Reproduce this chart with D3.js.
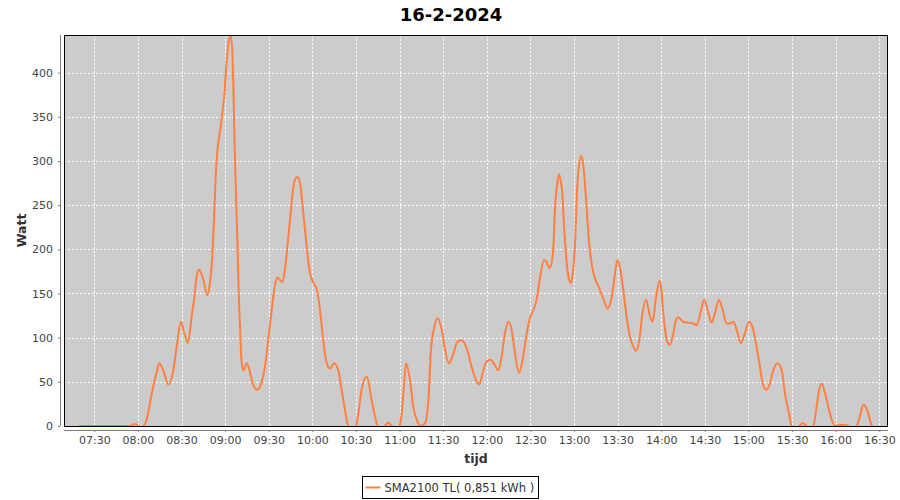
<!DOCTYPE html>
<html>
<head>
<meta charset="utf-8">
<script src="https://cdn.jsdelivr.net/npm/d3@7"></script>
<style>
   body { margin: 0; background: #fff; }
   text { font-family: 'DejaVu Sans', sans-serif; }
</style>
</head>
<body>
<div id="chart"></div>
<script>
const title = '16-2-2024';
const seriesName = 'SMA2100 TL( 0,851 kWh )';

// readings (time of day, watt)
const times = [
   '07:19:00', '07:30:00', '07:45:00', '07:55:00', '07:57:00', '07:59:00', '08:01:30', '08:04:00',
   '08:06:00', '08:08:20', '08:10:35', '08:12:55', '08:14:40', '08:17:30', '08:20:55', '08:24:20',
   '08:26:40', '08:29:35', '08:31:55', '08:34:20', '08:37:00', '08:38:50', '08:40:25', '08:42:00',
   '08:45:00', '08:47:40', '08:49:35', '08:51:10', '08:52:25', '08:53:30', '08:54:35', '08:55:50',
   '08:57:10', '08:58:20', '08:59:25', '09:00:35', '09:01:50', '09:02:55', '09:04:00', '09:05:00',
   '09:05:35', '09:06:35', '09:07:30', '09:08:25', '09:09:25', '09:10:20', '09:11:25', '09:12:30',
   '09:14:55', '09:17:05', '09:19:25', '09:22:05', '09:25:10', '09:27:25', '09:29:40', '09:32:00',
   '09:34:20', '09:35:55', '09:39:25', '09:41:10', '09:42:50', '09:44:40', '09:46:10', '09:48:05',
   '09:49:40', '09:51:35', '09:53:05', '09:55:00', '09:56:50', '09:58:25', '10:00:40', '10:03:00',
   '10:05:20', '10:07:30', '10:09:55', '10:12:05', '10:15:05', '10:17:50', '10:20:10', '10:22:30',
   '10:24:40', '10:27:20', '10:30:00', '10:31:35', '10:33:55', '10:37:25', '10:40:50', '10:43:05',
   '10:44:55', '10:47:30', '10:50:00', '10:52:10', '10:54:35', '10:57:10', '10:59:50', '11:01:30',
   '11:03:00', '11:04:25', '11:07:10', '11:09:25', '11:11:50', '11:14:00', '11:17:30', '11:19:50',
   '11:21:35', '11:23:55', '11:26:10', '11:29:00', '11:31:20', '11:34:00', '11:37:00', '11:39:40',
   '11:42:40', '11:46:10', '11:49:35', '11:52:35', '11:54:50', '11:57:35', '11:59:55', '12:02:40',
   '12:05:35', '12:07:55', '12:10:10', '12:12:30', '12:14:50', '12:17:05', '12:19:25', '12:22:10',
   '12:24:40', '12:27:30', '12:29:40', '12:32:00', '12:34:20', '12:36:05', '12:39:25', '12:41:00',
   '12:43:00', '12:44:30', '12:45:50', '12:47:00', '12:48:30', '12:49:40', '12:50:50', '12:52:00',
   '12:53:10', '12:54:35', '12:56:10', '12:57:50', '12:59:10', '13:00:50', '13:02:00', '13:03:35',
   '13:05:00', '13:06:30', '13:08:10', '13:09:30', '13:11:05', '13:13:25', '13:16:50', '13:20:20',
   '13:23:00', '13:26:00', '13:27:35', '13:29:50', '13:31:35', '13:33:55', '13:36:10', '13:38:30',
   '13:40:50', '13:42:35', '13:44:55', '13:47:10', '13:49:30', '13:52:20', '13:54:05', '13:56:25',
   '13:59:10', '14:01:25', '14:03:50', '14:06:00', '14:08:20', '14:10:10', '14:11:40', '14:15:10',
   '14:18:35', '14:22:05', '14:24:25', '14:26:40', '14:29:35', '14:32:25', '14:34:40', '14:37:00',
   '14:39:40', '14:42:20', '14:45:00', '14:47:20', '14:49:35', '14:51:55', '14:54:40', '14:57:35',
   '15:00:25', '15:02:55', '15:05:10', '15:07:30', '15:09:50', '15:12:05', '15:14:20', '15:17:05',
   '15:19:50', '15:22:55', '15:25:05', '15:27:25', '15:29:40', '15:32:00', '15:35:00', '15:37:20',
   '15:40:00', '15:42:20', '15:44:40', '15:46:55', '15:48:40', '15:50:25', '15:52:40', '15:54:55',
   '15:57:20', '15:59:30', '16:03:00', '16:06:25', '16:08:40', '16:11:30', '16:14:30', '16:16:40',
   '16:19:00', '16:21:40', '16:23:35', '16:24:50', '16:27:00'
];

const watts = [
   0, 0, 0, 0, 2, 2, -3, 0,
   7, 26, 45, 61, 71, 63, 47, 63,
   90, 118, 105, 94, 124, 146, 169, 177,
   166, 148, 162, 192, 237, 282, 309, 327,
   341, 358, 373, 403, 426, 439, 441, 422,
   392, 316, 260, 211, 146, 109, 71, 63,
   71, 61, 46, 41, 50, 67, 97, 131,
   160, 168, 163, 177, 203, 233, 260, 279,
   282, 275, 252, 222, 192, 173, 162, 155,
   131, 97, 71, 65, 71, 63, 41, 18,
   0, -4, 0, 14, 41, 56, 29, 11,
   0, -3, 0, 4, 0, -3, 0, 14,
   45, 71, 52, 22, 7, 0, 3, 29,
   86, 112, 122, 109, 86, 71, 82, 95,
   97, 88, 67, 52, 47, 63, 73, 75,
   69, 63, 78, 105, 118, 109, 82, 60,
   75, 105, 122, 131, 143, 162, 188, 186,
   179, 184, 203, 248, 275, 285, 278, 263,
   226, 192, 169, 162, 173, 211, 263, 297,
   306, 294, 260, 226, 196, 173, 158, 143,
   133, 146, 165, 188, 180, 154, 124, 101,
   90, 85, 97, 128, 143, 124, 118, 146,
   165, 128, 97, 92, 105, 120, 123, 118,
   117, 116, 114, 126, 143, 128, 117, 128,
   143, 131, 116, 116, 118, 109, 94, 105,
   118, 111, 94, 71, 48, 41, 46, 63,
   71, 63, 37, 18, 0, -4, 0, 3,
   0, -3, 0, 22, 41, 48, 37, 22,
   7, 0, 1, 1, 0, -3, 0, 11,
   24, 18, 7, 0, -4
];

const xTicks = ['07:30', '08:00', '08:30', '09:00', '09:30', '10:00', '10:30', '11:00', '11:30', '12:00',
   '12:30', '13:00', '13:30', '14:00', '14:30', '15:00', '15:30', '16:00', '16:30'];
const yTicks = [0, 50, 100, 150, 200, 250, 300, 350, 400];
const xDomain = ['07:09:10', '16:36:00'];
const yMax = 442.6;

const margin = { left: 64, right: 12, top: 35, bottom: 74 };
const width = 900 - margin.left - margin.right;
const height = 500 - margin.top - margin.bottom;

const parseTime = d3.timeParse('%H:%M:%S');
const parseTick = d3.timeParse('%H:%M');
const data = times.map((t, i) => ({ time: parseTime(t), watt: watts[i] }));

const svg = d3.select('#chart').append('svg')
               .attr('width', 900)
               .attr('height', 500);

svg.append('text')
   .attr('x', 451)
   .attr('y', 21)
   .attr('text-anchor', 'middle')
   .attr('font-size', '18px')
   .attr('font-weight', 'bold')
   .text(title);

const g = svg.append('g')
               .attr('transform', `translate(${margin.left}, ${margin.top})`);

const x = d3.scaleTime()
            .domain(xDomain.map(parseTime))
            .range([0, width]);

const y = d3.scaleLinear()
            .domain([0, yMax])
            .range([height, 0]);

g.append('rect')
   .attr('width', width)
   .attr('height', height)
   .attr('fill', '#cccccc');

// grid
g.append('g')
   .selectAll('line')
   .data(xTicks)
   .enter()
   .append('line')
      .attr('x1', d => Math.round(x(parseTick(d))) + 0.5)
      .attr('x2', d => Math.round(x(parseTick(d))) + 0.5)
      .attr('y1', 0)
      .attr('y2', height)
      .attr('stroke', '#fff')
      .attr('stroke-dasharray', '2,2');

g.append('g')
   .selectAll('line')
   .data(yTicks.filter(d => d > 0))
   .enter()
   .append('line')
      .attr('x1', 0)
      .attr('x2', width)
      .attr('y1', d => Math.round(y(d)) + 0.5)
      .attr('y2', d => Math.round(y(d)) + 0.5)
      .attr('stroke', '#fff')
      .attr('stroke-dasharray', '2,2');

g.append('clipPath')
   .attr('id', 'plot-clip')
   .append('rect')
      .attr('width', width)
      .attr('height', height);

const line = d3.line()
               .x(d => x(d.time))
               .y(d => y(d.watt))
               .curve(d3.curveMonotoneX);

g.append('path')
   .datum(data)
   .attr('clip-path', 'url(#plot-clip)')
   .attr('fill', 'none')
   .attr('stroke', '#ff8040')
   .attr('stroke-width', 2)
   .attr('stroke-linejoin', 'round')
   .attr('d', line);

g.append('rect')
   .attr('x', 0.5)
   .attr('y', 0.5)
   .attr('width', width - 1)
   .attr('height', height)
   .attr('fill', 'none')
   .attr('stroke', '#000');

// axes
const xAxisCall = d3.axisBottom(x)
                     .tickValues(xTicks.map(parseTick))
                     .tickFormat(d3.timeFormat('%H:%M'))
                     .tickSize(2)
                     .tickPadding(4);

const yAxisCall = d3.axisLeft(y)
                     .tickValues(yTicks)
                     .tickSize(2)
                     .tickPadding(5);

const xAxis = g.append('g')
               .attr('class', 'x axis')
               .attr('transform', `translate(0, ${height + 4})`)
               .call(xAxisCall);

const yAxis = g.append('g')
               .attr('class', 'y axis')
               .attr('transform', 'translate(-4, 0)')
               .call(yAxisCall);

[xAxis, yAxis].forEach(a => {
   a.selectAll('path, line').attr('stroke', '#808080');
   a.selectAll('path').attr('d', a === xAxis ? `M0,0.5H${width}` : `M0.5,0V${height}`);
   a.selectAll('text')
      .attr('fill', '#444')
      .attr('font-size', '11px')
      .attr('font-family', 'DejaVu Sans, sans-serif');
});

g.append('text')
   .attr('x', width / 2)
   .attr('y', height + 37)
   .attr('text-anchor', 'middle')
   .attr('font-size', '12.5px')
   .attr('font-weight', 'bold')
   .attr('fill', '#333')
   .text('tijd');

g.append('text')
   .attr('x', -height / 2)
   .attr('y', -38)
   .attr('transform', 'rotate(-90)')
   .attr('text-anchor', 'middle')
   .attr('font-size', '12.5px')
   .attr('font-weight', 'bold')
   .attr('fill', '#333')
   .text('Watt');

// legend
const legend = svg.append('g').attr('transform', 'translate(362.5, 476.5)');

legend.append('rect')
   .attr('width', 176)
   .attr('height', 22)
   .attr('fill', '#fff')
   .attr('stroke', '#000');

legend.append('line')
   .attr('x1', 3)
   .attr('x2', 18)
   .attr('y1', 11)
   .attr('y2', 11)
   .attr('stroke', '#ff8040')
   .attr('stroke-width', 2);

legend.append('text')
   .attr('x', 22)
   .attr('y', 15)
   .attr('font-size', '11.5px')
   .attr('fill', '#333')
   .text(seriesName);
</script>
</body>
</html>
